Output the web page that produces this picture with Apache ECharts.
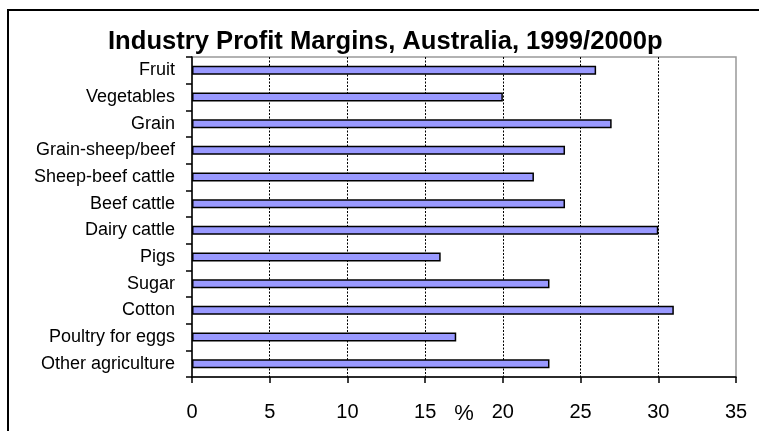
<!DOCTYPE html>
<html>
<head>
<meta charset="utf-8">
<script src="https://cdn.jsdelivr.net/npm/echarts@6/dist/echarts.min.js"></script>
<style>
	html, body { margin: 0; padding: 0; background: #fff; }
	#chart { width: 759px; height: 431px; }
</style>
</head>
<body>
<div id="chart"></div>
<script>
var categories = ['Fruit', 'Vegetables', 'Grain', 'Grain-sheep/beef', 'Sheep-beef cattle', 'Beef cattle',
	'Dairy cattle', 'Pigs', 'Sugar', 'Cotton', 'Poultry for eggs', 'Other agriculture'];
var margins = [26, 20, 27, 24, 22, 24, 30, 16, 23, 31, 17, 23];
var tickValues = [0, 5, 10, 15, 20, 25, 30, 35];

var fontName = 'Liberation Sans, Arial, sans-serif';

var myChart = echarts.init(document.getElementById('chart'));
myChart.setOption({
	animation: false,
	title: {
		text: 'Industry Profit Margins, Australia, 1999/2000p',
		left: 108,
		top: 29,
		padding: 0,
		textStyle: {
			fontFamily: fontName,
			fontWeight: 'bold',
			fontSize: 25.6,
			color: '#000'
		}
	},
	graphic: [
		{
			type: 'rect',
			shape: { x: 8, y: 10, width: 900, height: 600 },
			style: { fill: 'none', stroke: '#000', lineWidth: 2 },
			silent: true
		}
	],
	grid: {
		left: 192,
		right: 23,
		top: 57,
		bottom: 54,
		outerBoundsMode: 'none',
		show: true,
		borderColor: '#999',
		borderWidth: 1.5
	},
	xAxis: {
		type: 'value',
		min: tickValues[0],
		max: tickValues[tickValues.length - 1],
		interval: 5,
		name: '%',
		nameLocation: 'middle',
		nameGap: 26,
		nameMoveOverlap: false,
		nameTextStyle: { fontFamily: fontName, fontSize: 22, color: '#000' },
		axisLine: { show: true, lineStyle: { color: '#000', width: 1.5 } },
		axisTick: { show: true, length: 6, lineStyle: { color: '#000', width: 1.5 } },
		axisLabel: { margin: 25, fontFamily: fontName, fontSize: 20, color: '#000' },
		splitLine: {
			show: true,
			showMinLine: false,
			showMaxLine: false,
			lineStyle: { color: '#000', type: [2, 1.5], width: 1 }
		}
	},
	yAxis: {
		type: 'category',
		data: categories,
		inverse: true,
		axisLine: { show: true, lineStyle: { color: '#000', width: 1.5 } },
		axisTick: { show: true, length: 6, lineStyle: { color: '#000', width: 1.5 } },
		axisLabel: { margin: 17, fontFamily: fontName, fontSize: 18, color: '#000' },
		splitLine: { show: false }
	},
	series: [
		{
			type: 'bar',
			data: margins,
			barWidth: 9,
			itemStyle: {
				color: '#9999FF',
				borderColor: '#000',
				borderWidth: 1.5
			}
		}
	]
});
</script>
</body>
</html>
